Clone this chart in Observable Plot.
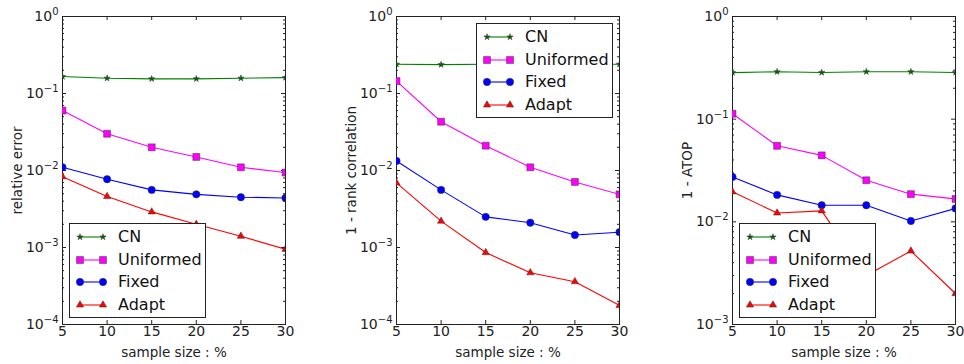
<!DOCTYPE html>
<html><head><meta charset="utf-8">
<script src="https://cdn.jsdelivr.net/npm/d3@7"></script>
<script src="https://cdn.jsdelivr.net/npm/@observablehq/plot@0.6"></script>
<style>
body{margin:0;background:#fff;font-family:"DejaVu Sans",sans-serif;}
#root{position:relative;width:964px;height:364px;overflow:hidden;background:#fff;}
.panel{position:absolute;top:0;}
.legend{position:absolute;background:#fff;border:1px solid #222;box-sizing:border-box;}
.legend .item{position:absolute;left:0;height:22px;}
.legend .item span{position:absolute;left:48px;font-size:16px;color:#111;white-space:nowrap;line-height:22px;top:0;}
.legend .item svg{position:absolute;left:0;top:0;}
</style></head><body><div id="root"></div><script>
// ---------- data ----------
const sampleSizes = [5, 10, 15, 20, 25, 30];
const seriesNames = ["CN", "Uniformed", "Fixed", "Adapt"];

// panel 1: relative error
const relErrCN        = [0.166, 0.158, 0.155, 0.155, 0.158, 0.161];
const relErrUniformed = [0.060, 0.030, 0.020, 0.015, 0.011, 0.0094];
const relErrFixed     = [0.011, 0.0077, 0.0056, 0.0049, 0.0045, 0.0044];
const relErrAdapt     = [0.0083, 0.0046, 0.0029, 0.0020, 0.0014, 0.00095];

// panel 2: 1 - rank correlation
const rankCN        = [0.24, 0.237, 0.24, 0.24, 0.24, 0.24];
const rankUniformed = [0.145, 0.043, 0.021, 0.011, 0.0071, 0.0049];
const rankFixed     = [0.0133, 0.0056, 0.0025, 0.0021, 0.00145, 0.00158];
const rankAdapt     = [0.0069, 0.0022, 0.00086, 0.00047, 0.00036, 0.000177];

// panel 3: 1 - ATOP
const atopCN        = [0.284, 0.29, 0.285, 0.29, 0.29, 0.285];
const atopUniformed = [0.113, 0.055, 0.0444, 0.0254, 0.0186, 0.0167];
const atopFixed     = [0.0274, 0.0183, 0.0145, 0.0145, 0.0102, 0.0135];
const atopAdapt     = [0.0196, 0.0122, 0.0128, 0.0030, 0.0052, 0.0020];

const xTicks = [5, 10, 15, 20, 25, 30];
const yLabels = ["relative error", "1 - rank correlation", "1 - ATOP"];
const xLabel = "sample size : %";

// ---------- styles ----------
const seriesStyle = {
  CN:        {line: "#008000", fill: "#006400", symbol: "star",     r: 2.0},
  Uniformed: {line: "#ff00ff", fill: "#ff00ff", symbol: "square",   r: 3.9},
  Fixed:     {line: "#0000ff", fill: "#0000ff", symbol: "circle",   r: 3.7},
  Adapt:     {line: "#ff0000", fill: "#ff0000", symbol: "triangle", r: 2.7}
};

const panels = [
  {left: 0,   yDomain: [1e-4, 1], values: [relErrCN, relErrUniformed, relErrFixed, relErrAdapt], legend: {x: 69, y: 223}},
  {left: 334, yDomain: [1e-4, 1], values: [rankCN, rankUniformed, rankFixed, rankAdapt], legend: {x: 476, y: 23}},
  {left: 670, yDomain: [1e-3, 1], values: [atopCN, atopUniformed, atopFixed, atopAdapt], legend: {x: 739, y: 223}}
];

const fmtPow = d => "10^" + Math.round(Math.log10(d));

const mL = 62, mR = 9, mT = 16, mB = 40, FW = 223, FH = 308;
const W = mL + FW + mR, H = mT + FH + mB;
const root = document.getElementById("root");

panels.forEach((p, pi) => {
  const rows = [];
  seriesNames.forEach((s, si) => sampleSizes.forEach((x, i) => rows.push({series: s, x, y: p.values[si][i]})));
  const lo = Math.round(Math.log10(p.yDomain[0])), hi = Math.round(Math.log10(p.yDomain[1]));
  const major = d3.range(lo, hi + 1).map(e => Math.pow(10, e));
  const minor = [];
  for (let e = lo; e < hi; e++) for (let k = 2; k <= 9; k++) minor.push(k * Math.pow(10, e));

  const marks = [
    Plot.frame({stroke: "#222", strokeWidth: 1}),
    Plot.tickY(major, {y: d => d, stroke: "#222", insetRight: FW - 4}),
    Plot.tickY(major, {y: d => d, stroke: "#222", insetLeft: FW - 4}),
    Plot.tickY(minor, {y: d => d, stroke: "#222", insetRight: FW - 2}),
    Plot.tickY(minor, {y: d => d, stroke: "#222", insetLeft: FW - 2}),
    Plot.tickX(xTicks, {x: d => d, stroke: "#222", insetTop: FH - 4}),
    Plot.tickX(xTicks, {x: d => d, stroke: "#222", insetBottom: FH - 4}),
    Plot.axisY(major, {tickSize: 0, tickPadding: 4, tickFormat: fmtPow, fontSize: 14, fill: "#222", label: null, ariaLabel: "ylog"}),
    Plot.axisX(xTicks, {tickSize: 0, tickPadding: 2, fontSize: 14, fill: "#222", label: null, tickFormat: d => String(d)}),
    Plot.text([yLabels[pi]], {frameAnchor: "left", rotate: -90, dx: -45, fontSize: 13.5, fill: "#222", textAnchor: "middle", lineAnchor: "middle"}),
    Plot.text([xLabel], {frameAnchor: "bottom", dy: 28, fontSize: 13.5, fill: "#222", lineAnchor: "middle"})
  ];
  seriesNames.forEach(s => {
    const st = seriesStyle[s];
    marks.push(Plot.line(rows.filter(r => r.series === s), {x: "x", y: "y", stroke: st.line, strokeWidth: 1.1, clip: true}));
  });
  seriesNames.forEach(s => {
    const st = seriesStyle[s];
    marks.push(Plot.dot(rows.filter(r => r.series === s), {x: "x", y: "y", symbol: () => st.symbol, r: st.r, fill: st.fill, stroke: "#333", strokeWidth: 0.5, clip: true}));
  });

  const chart = Plot.plot({
    width: W, height: H,
    marginLeft: mL, marginRight: mR, marginTop: mT, marginBottom: mB,
    style: {fontFamily: "DejaVu Sans, sans-serif", background: "transparent", overflow: "visible"},
    x: {domain: [5, 30], axis: null},
    y: {type: "log", domain: p.yDomain, axis: null},
    symbol: {domain: ["star", "square", "circle", "triangle"], range: ["star", "square", "circle", "triangle"]},
    marks
  });
  // turn "10^e" tick labels into base + raised exponent
  chart.querySelectorAll("text").forEach(t => {
    const m = /^10\^(-?\d+)$/.exec(t.textContent);
    if (!m) return;
    t.textContent = "";
    const ns = "http://www.w3.org/2000/svg";
    const b = document.createElementNS(ns, "tspan"); b.textContent = "10";
    const e = document.createElementNS(ns, "tspan"); e.textContent = m[1].replace("-", "\u2212");
    e.setAttribute("dy", "-6"); e.setAttribute("font-size", "10");
    t.appendChild(b); t.appendChild(e);
  });
  chart.classList.add("panel");
  chart.style.left = p.left + "px";
  root.appendChild(chart);

  // legend
  const lg = document.createElement("div");
  lg.className = "legend";
  lg.style.left = p.legend.x + "px";
  lg.style.top = p.legend.y + "px";
  lg.style.width = "137px";
  lg.style.height = "95px";
  seriesNames.forEach((s, i) => {
    const st = seriesStyle[s];
    const item = document.createElement("div");
    item.className = "item";
    item.style.top = (2 + i * 22.5) + "px";
    item.style.width = "135px";
    const sym = {star: d3.symbolStar, square: d3.symbolSquare, circle: d3.symbolCircle, triangle: d3.symbolTriangle}[st.symbol];
    const path = d3.symbol(sym, Math.PI * st.r * st.r)();
    item.innerHTML = `<svg width="45" height="22"><line x1="10" x2="33" y1="11" y2="11" stroke="${st.line}" stroke-width="1.1"/>` +
      `<path d="${path}" transform="translate(10,11)" fill="${st.fill}" stroke="#333" stroke-width="0.5"/>` +
      `<path d="${path}" transform="translate(33,11)" fill="${st.fill}" stroke="#333" stroke-width="0.5"/></svg><span>${s}</span>`;
    lg.appendChild(item);
  });
  root.appendChild(lg);
});
</script></body></html>
